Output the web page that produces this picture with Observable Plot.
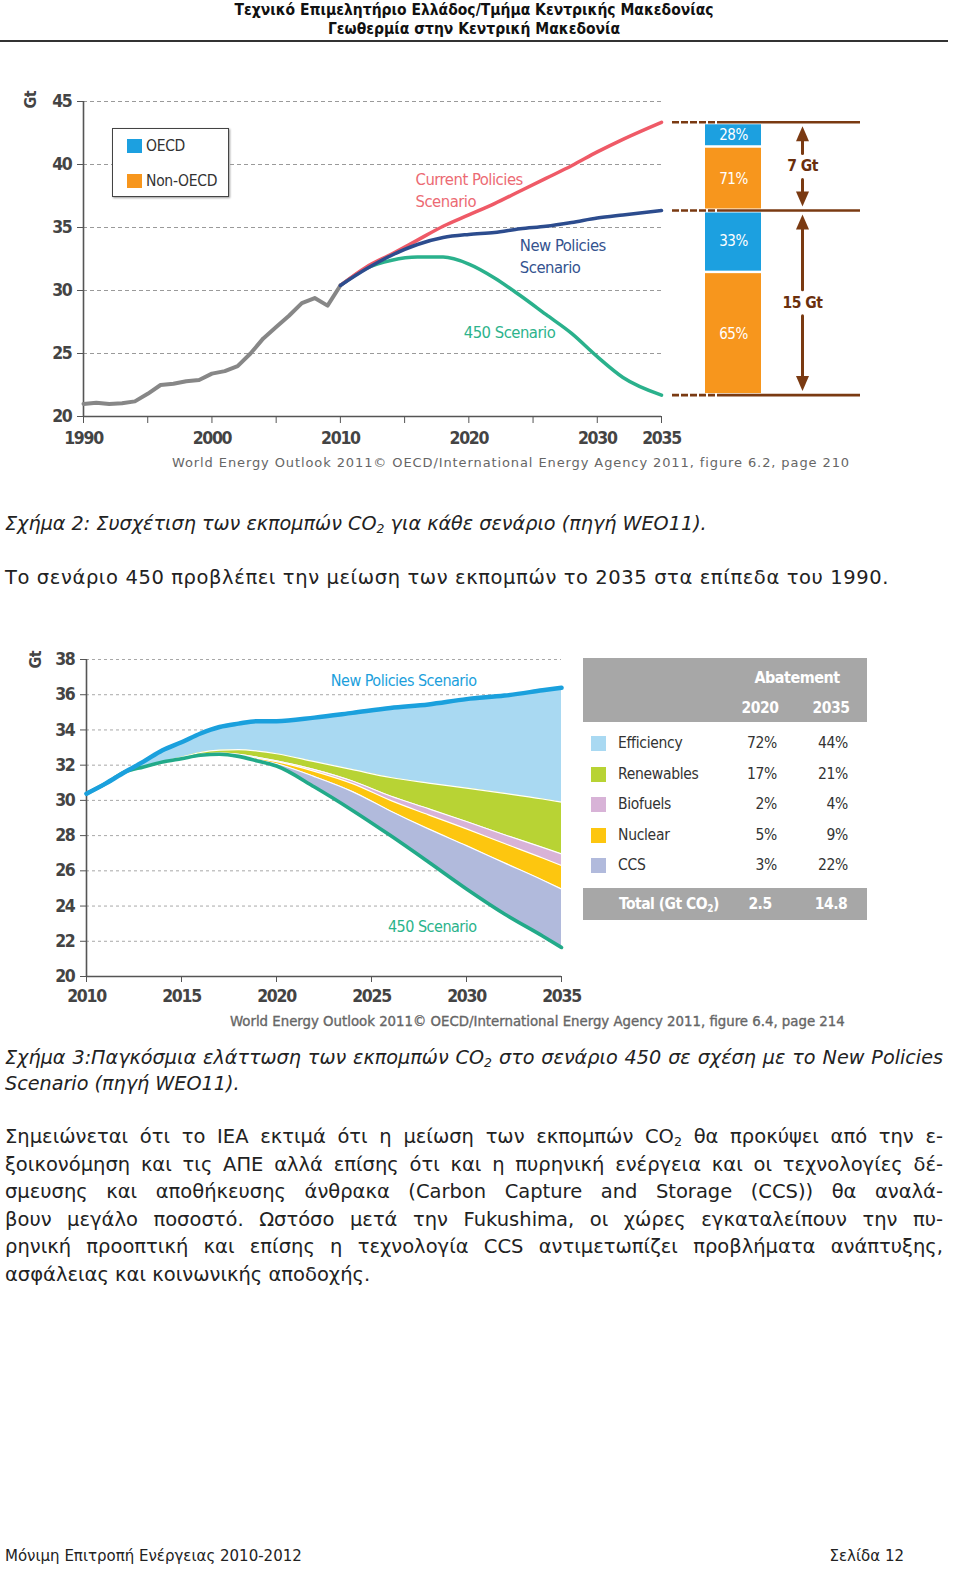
<!DOCTYPE html>
<html>
<head>
<meta charset="utf-8">
<script src="https://cdn.jsdelivr.net/npm/d3@7"></script>
<script src="https://cdn.jsdelivr.net/npm/@observablehq/plot@0.6"></script>
<style>
  body { margin: 0; background: #fff; }
  #page { position: relative; width: 960px; height: 1584px; overflow: hidden; font-family: "DejaVu Sans", sans-serif; color: #222; }
  .abs { position: absolute; }
  .cond { font-family: "Liberation Sans Narrow", "DejaVu Sans Condensed", sans-serif; }
  #page svg text { font-family: "Liberation Sans Narrow", "DejaVu Sans Condensed", sans-serif !important; letter-spacing: -0.5px; }
  #page svg g[aria-label$="tick label"] text { letter-spacing: -1.3px; }
  .hdr { left: 0; width: 948px; text-align: center; font-size: 15.5px; font-weight: bold; line-height: 19px; color: #111; }
  .jline { left: 5px; width: 938px; text-align: justify; text-align-last: justify; white-space: nowrap; }
  .txt { font-size: 19.5px; line-height: 27.6px; color: #222; }
  .cap { font-style: italic; font-size: 19.2px; color: #222; }
  sub { font-size: 0.65em; vertical-align: -0.25em; line-height: 0; }
  .src { font-size: 13px; color: #666; letter-spacing: 0.9px; white-space: nowrap; }
  #legend1 { left: 112px; top: 128px; width: 115px; height: 67px; border: 1.6px solid #444; background: #fff; box-shadow: 1px 1px 2px #999; font-size: 15.5px; letter-spacing: -0.3px; color: #333; }
  .sw { position: absolute; width: 15px; height: 14px; }
  .lg { position: absolute; line-height: 17px; }
  #table2 { left: 583px; top: 658px; width: 284px; height: 262px; font-size: 15.5px; letter-spacing: -0.3px; color: #333; }
  .tbox { position: absolute; left: 0; width: 284px; background: #a7a7a7; }
  .tc { position: absolute; line-height: 18px; white-space: nowrap; }
  .wb { color: #fff; font-weight: bold; font-size: 15.5px; letter-spacing: -0.5px; }
</style>
</head>
<body>
<div id="page">
  <div class="abs hdr cond" style="top:1px">Τεχνικό Επιμελητήριο Ελλάδος/Τμήμα Κεντρικής Μακεδονίας</div>
  <div class="abs hdr cond" style="top:20px">Γεωθερμία στην Κεντρική Μακεδονία</div>
  <div class="abs" style="left:0;top:40px;width:948px;height:2px;background:#333"></div>

  <div id="chart1" class="abs" style="left:0;top:85px"></div>
  <div id="chart1b" class="abs" style="left:662px;top:85px"></div>
  <div id="legend1" class="abs cond"></div>
  <div class="abs src" style="left:172px;top:455px">World Energy Outlook 2011© OECD/International Energy Agency 2011, figure 6.2, page 210</div>

  <div class="abs cap" style="left:5px;top:512px;line-height:24px">Σχήμα 2: Συσχέτιση των εκπομπών CO<sub>2</sub> για κάθε σενάριο (πηγή WEO11).</div>
  <div class="abs txt" style="left:5px;top:564px;letter-spacing:0.6px">Το σενάριο 450 προβλέπει την μείωση των εκπομπών το 2035 στα επίπεδα του 1990.</div>

  <div id="chart2" class="abs" style="left:0;top:640px"></div>
  <div id="table2" class="abs cond"></div>
  <div class="abs cond" style="left:230px;top:1012px;font-size:14.8px;color:#666;-webkit-text-stroke:0.35px #666;white-space:nowrap">World Energy Outlook 2011© OECD/International Energy Agency 2011, figure 6.4, page 214</div>

  <div class="abs cap jline" style="top:1045px;line-height:26px">Σχήμα 3:Παγκόσμια ελάττωση των εκπομπών CO<sub>2</sub> στο σενάριο 450 σε σχέση με το New Policies</div>
  <div class="abs cap" style="left:5px;top:1071px;line-height:26px">Scenario (πηγή WEO11).</div>

  <div class="abs txt jline" style="top:1123px">Σημειώνεται ότι το ΙΕΑ εκτιμά ότι η μείωση των εκπομπών CO<sub>2</sub> θα προκύψει από την ε-</div>
  <div class="abs txt jline" style="top:1150.6px">ξοικονόμηση και τις ΑΠΕ αλλά επίσης ότι και η πυρηνική ενέργεια και οι τεχνολογίες δέ-</div>
  <div class="abs txt jline" style="top:1178.2px">σμευσης και αποθήκευσης άνθρακα (Carbon Capture and Storage (CCS)) θα αναλά-</div>
  <div class="abs txt jline" style="top:1205.8px">βουν μεγάλο ποσοστό. Ωστόσο μετά την Fukushima, οι χώρες εγκαταλείπουν την πυ-</div>
  <div class="abs txt jline" style="top:1233.4px">ρηνική προοπτική και επίσης η τεχνολογία CCS αντιμετωπίζει προβλήματα ανάπτυξης,</div>
  <div class="abs txt" style="left:5px;top:1261px">ασφάλειας και κοινωνικής αποδοχής.</div>

  <div class="abs" style="left:5px;top:1546px;font-size:15px;line-height:20px;color:#222">Μόνιμη Επιτροπή Ενέργειας 2010-2012</div>
  <div class="abs" style="left:760px;width:144px;text-align:right;top:1546px;font-size:15px;line-height:20px;color:#222">Σελίδα 12</div>
</div>

<script>
// ---------------- Chart 1 data ----------------
const histYears = [1990,1991,1992,1993,1994,1995,1996,1997,1998,1999,2000,2001,2002,2003,2004,2005,2006,2007,2008,2009,2010];
const histCO2   = [21.0,21.1,21.0,21.05,21.2,21.8,22.5,22.6,22.8,22.9,23.4,23.6,24.0,25.0,26.2,27.1,28.0,29.0,29.4,28.8,30.4];
const scenYears = [2010,2012,2014,2016,2018,2020,2022,2024,2026,2028,2030,2032,2035];
const currentPolicies = [30.4,31.85,32.9,34.0,35.1,36.0,36.9,37.9,38.9,39.9,41.0,42.0,43.35];
const newPolicies     = [30.4,31.7,32.8,33.65,34.2,34.45,34.6,34.9,35.1,35.4,35.75,36.0,36.35];
const scenario450     = [30.4,31.75,32.4,32.65,32.65,32.1,31.0,29.6,28.1,26.6,24.75,23.1,21.7];
const yTicks1 = [20,25,30,35,40,45];
const xTicks1 = [1990,1995,2000,2005,2010,2015,2020,2025,2030,2035];
const xLabels1 = [1990,2000,2010,2020,2030,2035];
const legendRegions = ["OECD","Non-OECD"];
const gapLabels = ["7 Gt","15 Gt"];
const oecdShare = [28,33];
const nonOecdShare = [71,65];
const scenarioNotes1 = ["Current Policies\nScenario","New Policies\nScenario","450 Scenario"];
const noteYear1 = [2015.85,2023.97,2019.6];
const noteValue1 = [38.07,32.84,26.83];

// ---------------- Chart 2 data ----------------
const years2 = [2010,2011,2012,2013,2014,2015,2016,2017,2018,2019,2020,2022,2024,2026,2028,2030,2032,2034,2035];
const np2    = [30.38,30.95,31.6,32.2,32.85,33.3,33.8,34.17,34.36,34.5,34.5,34.7,34.97,35.25,35.45,35.75,35.95,36.25,36.4];
const effLow = [30.38,30.95,31.6,31.9,32.2,32.45,32.72,32.85,32.88,32.8,32.65,32.2,31.75,31.3,30.98,30.7,30.4,30.08,29.9];
const renLow = [30.38,30.95,31.6,31.9,32.19,32.39,32.6,32.68,32.62,32.45,32.25,31.75,31.1,30.25,29.53,28.8,28.05,27.33,26.96];
const bioLow = [30.38,30.95,31.6,31.9,32.185,32.38,32.58,32.65,32.57,32.39,32.2,31.65,30.95,30.0,29.18,28.38,27.55,26.73,26.3];
const nucLow = [30.38,30.95,31.6,31.9,32.18,32.37,32.57,32.63,32.53,32.3,32.08,31.35,30.5,29.4,28.38,27.43,26.45,25.48,24.97];
const s450_2 = [30.38,30.95,31.6,31.9,32.18,32.37,32.56,32.62,32.5,32.24,31.95,30.76,29.43,28.0,26.5,24.97,23.55,22.3,21.65];
const yTicks2 = [20,22,24,26,28,30,32,34,36,38];
const xTicks2 = [2010,2015,2020,2025,2030,2035];
const measures = ["Efficiency","Renewables","Biofuels","Nuclear","CCS"];
const share2020 = ["72%","17%","2%","5%","3%"];
const share2035 = ["44%","21%","4%","9%","22%"];
const totals = ["2.5","14.8"];
const abatementYears = ["2020","2035"];

// ---------------- styles ----------------
const COND = "'Liberation Sans Narrow','DejaVu Sans Condensed',sans-serif";
const BLUE = "#1ca0e0", ORANGE = "#f7961d", BROWN = "#7a3a12";
const measureColors = ["#a9d9f2","#b8d334","#d8b3d7","#fdc60f","#b1badc"];

// ===== Chart 1 main =====
const hist = histYears.map((year, i) => ({year, value: histCO2[i]}));
const scen = arr => scenYears.map((year, i) => ({year, value: arr[i]}));
const noteColors1 = ["#ec6a73","#34538f","#2db38c"];
const notes1 = scenarioNotes1.map((text, i) => ({text, year: noteYear1[i], value: noteValue1[i], color: noteColors1[i]}));

const chart1 = Plot.plot({
  width: 690, height: 376, marginLeft: 83, marginRight: 29, marginTop: 16, marginBottom: 45,
  x: {domain: [1990, 2035]}, y: {domain: [20, 45]},
  style: {fontFamily: COND, color: "#444", background: "transparent", overflow: "visible"},
  marks: [
    Plot.gridY(yTicks1, {stroke: "#9a9a9a", strokeOpacity: 1, strokeDasharray: "4,3"}),
    Plot.axisY(yTicks1, {tickSize: 6, tickPadding: 6, label: null, fontSize: 17.5, fontWeight: "bold", stroke: "#555"}),
    Plot.axisX(xTicks1, {tickSize: 7, tickPadding: 8, label: null, fontSize: 17.5, fontWeight: "bold", stroke: "#555",
      tickFormat: d => xLabels1.includes(d) ? String(d) : ""}),
    Plot.ruleX([1990], {stroke: "#555", strokeWidth: 1.6}),
    Plot.ruleY([20], {stroke: "#555", strokeWidth: 1.6}),
    Plot.text(["Gt"], {frameAnchor: "top-left", dx: -59, dy: 7, rotate: -90, fontSize: 16, fontWeight: "bold", fill: "#444"}),
    Plot.line(hist, {x: "year", y: "value", stroke: "#878787", strokeWidth: 4}),
    Plot.line(scen(scenario450), {x: "year", y: "value", stroke: "#2ab18c", strokeWidth: 3.5, curve: "monotone-x"}),
    Plot.line(scen(currentPolicies), {x: "year", y: "value", stroke: "#ef5a67", strokeWidth: 3.5, curve: "monotone-x"}),
    Plot.line(scen(newPolicies), {x: "year", y: "value", stroke: "#2c4c8e", strokeWidth: 3.5, curve: "monotone-x"}),
    Plot.text(notes1, {x: "year", y: "value", text: "text", textAnchor: "start", lineAnchor: "middle", lineHeight: 1.35,
      fontSize: 16.5, fill: d => d.color})
  ]
});
document.getElementById("chart1").appendChild(chart1);

// ===== Chart 1 right panel (gap bars) =====
const cpEnd = currentPolicies[currentPolicies.length - 1];
const npEnd = newPolicies[newPolicies.length - 1];
const lowEnd = scenario450[scenario450.length - 1];
const gapTops = [cpEnd, npEnd], gapBottoms = [npEnd, lowEnd];
const gaps = gapLabels.map((label, i) => {
  const top = gapTops[i], bottom = gapBottoms[i];
  const split = top - (top - bottom) * oecdShare[i] / (oecdShare[i] + nonOecdShare[i]);
  return {label, top, bottom, mid: (top + bottom) / 2, split,
          oecdTxt: oecdShare[i] + "%", nonTxt: nonOecdShare[i] + "%"};
});
const levels = [cpEnd, npEnd, lowEnd];
const upHead = {draw(c) { c.moveTo(0, 0); c.lineTo(6.5, 15); c.lineTo(-6.5, 15); c.closePath(); }};
const downHead = {draw(c) { c.moveTo(0, 0); c.lineTo(6.5, -15); c.lineTo(-6.5, -15); c.closePath(); }};
const BX1 = 43, BX2 = 99, AX = 140;

const chart1b = Plot.plot({
  width: 200, height: 376, marginLeft: 0, marginRight: 0, marginTop: 16, marginBottom: 45,
  x: {domain: [0, 200], axis: null}, y: {domain: [20, 45], axis: null},
  style: {fontFamily: COND, background: "transparent", overflow: "visible"},
  marks: [
    Plot.ruleY(levels, {x1: 10, x2: 55, stroke: BROWN, strokeWidth: 2.6, strokeDasharray: "7,2"}),
    Plot.ruleY(levels, {x1: 55, x2: 198, stroke: BROWN, strokeWidth: 2.6}),
    Plot.rectY(gaps, {x1: BX1, x2: BX2, y1: "split", y2: "top", fill: BLUE, insetTop: 2.5, insetBottom: 1.5}),
    Plot.rectY(gaps, {x1: BX1, x2: BX2, y1: "bottom", y2: "split", fill: ORANGE, insetTop: 1, insetBottom: 1.5}),
    Plot.text(gaps, {x: (BX1 + BX2) / 2, y: d => (d.top + d.split) / 2, text: "oecdTxt", fill: "#fff", fontSize: 15}),
    Plot.text(gaps, {x: (BX1 + BX2) / 2, y: d => (d.split + d.bottom) / 2, text: "nonTxt", fill: "#fff", fontSize: 15}),
    Plot.arrow(gaps, {x1: AX, x2: AX, y1: "mid", y2: "top", headLength: 0, insetStart: 13, insetEnd: 14, stroke: BROWN, strokeWidth: 3}),
    Plot.arrow(gaps, {x1: AX, x2: AX, y1: "mid", y2: "bottom", headLength: 0, insetStart: 13, insetEnd: 14, stroke: BROWN, strokeWidth: 3}),
    Plot.dot(gaps, {x: AX, y: "top", symbol: upHead, fill: BROWN, stroke: "none", dy: 4}),
    Plot.dot(gaps, {x: AX, y: "bottom", symbol: downHead, fill: BROWN, stroke: "none", dy: -4}),
    Plot.text(gaps, {x: AX, y: "mid", text: "label", fill: "#6a2f0d", fontWeight: "bold", fontSize: 15.5})
  ]
});
document.getElementById("chart1b").appendChild(chart1b);

// legend for chart 1
const legendColors = [BLUE, ORANGE];
document.getElementById("legend1").innerHTML = legendRegions.map((r, i) =>
  `<div class="sw" style="left:14px;top:${10 + i * 35}px;background:${legendColors[i]}"></div>` +
  `<div class="lg" style="left:33px;top:${8.5 + i * 35}px">${r}</div>`).join("");

// ===== Chart 2 =====
const wedge = years2.map((year, i) => ({year, np: np2[i], eff: effLow[i], ren: renLow[i], bio: bioLow[i], nuc: nucLow[i], s450: s450_2[i]}));
const bounds = ["np","eff","ren","bio","nuc","s450"];
const curve = "monotone-x";
const notes2 = [
  {text: "New Policies Scenario", year: 2030.53, value: 36.81, color: "#1c9fdc"},
  {text: "450 Scenario", year: 2030.53, value: 22.8, color: "#2bb38b"}
];

const chart2 = Plot.plot({
  width: 580, height: 381, marginLeft: 86, marginRight: 19, marginTop: 19, marginBottom: 45,
  x: {domain: [2010, 2035]}, y: {domain: [20, 38]},
  style: {fontFamily: COND, color: "#444", background: "transparent", overflow: "visible"},
  marks: [
    Plot.gridY(yTicks2, {stroke: "#a8a8a8", strokeOpacity: 1, strokeDasharray: "3,3"}),
    ...measures.map((m, i) => Plot.areaY(wedge, {x: "year", y1: bounds[i + 1], y2: bounds[i], fill: measureColors[i], curve})),
    ...bounds.slice(1, 5).map(b => Plot.line(wedge, {x: "year", y: b, stroke: "#fff", strokeWidth: 1.2, curve})),
    Plot.axisY(yTicks2, {tickSize: 6, tickPadding: 6, label: null, fontSize: 17.5, fontWeight: "bold", stroke: "#555"}),
    Plot.axisX(xTicks2, {tickSize: 6, tickPadding: 7, label: null, fontSize: 17.5, fontWeight: "bold", stroke: "#555", tickFormat: d => String(d)}),
    Plot.ruleX([2010], {stroke: "#555", strokeWidth: 1.6}),
    Plot.ruleY([20], {stroke: "#555", strokeWidth: 1.6}),
    Plot.text(["Gt"], {frameAnchor: "top-left", dx: -57, dy: 9, rotate: -90, fontSize: 16, fontWeight: "bold", fill: "#444"}),
    Plot.line(wedge, {x: "year", y: "s450", stroke: "#22aa89", strokeWidth: 3.6, curve}),
    Plot.line(wedge, {x: "year", y: "np", stroke: "#1aa0dd", strokeWidth: 4.5, curve}),
    Plot.text(notes2, {x: "year", y: "value", text: "text", textAnchor: "end", fontSize: 16, fill: d => d.color})
  ]
});
document.getElementById("chart2").appendChild(chart2);

// table / legend for chart 2
const colX = [194, 265];
let t = `<div class="tbox" style="top:0;height:64px"></div>`;
t += `<div class="tc wb" style="left:144px;width:140px;top:11px;text-align:center;font-size:16px">Abatement</div>`;
abatementYears.forEach((y, j) => {
  t += `<div class="tc wb" style="left:${colX[j] - 42}px;width:50px;top:41px;text-align:center">${y}</div>`;
});
measures.forEach((m, i) => {
  const top = 76 + i * 30.5;
  t += `<div class="sw" style="left:8px;top:${top + 2}px;width:15px;height:15px;background:${measureColors[i]}"></div>`;
  t += `<div class="tc" style="left:35px;top:${top}px">${m}</div>`;
  t += `<div class="tc" style="left:${colX[0] - 60}px;width:60px;top:${top}px;text-align:right">${share2020[i]}</div>`;
  t += `<div class="tc" style="left:${colX[1] - 60}px;width:60px;top:${top}px;text-align:right">${share2035[i]}</div>`;
});
t += `<div class="tbox" style="top:230px;height:32px"></div>`;
t += `<div class="tc wb" style="left:36px;top:237px">Total (Gt CO<sub>2</sub>)</div>`;
totals.forEach((v, j) => {
  t += `<div class="tc wb" style="left:${colX[j] - 42}px;width:50px;top:237px;text-align:center">${v}</div>`;
});
document.getElementById("table2").innerHTML = t;
</script>
</body>
</html>
